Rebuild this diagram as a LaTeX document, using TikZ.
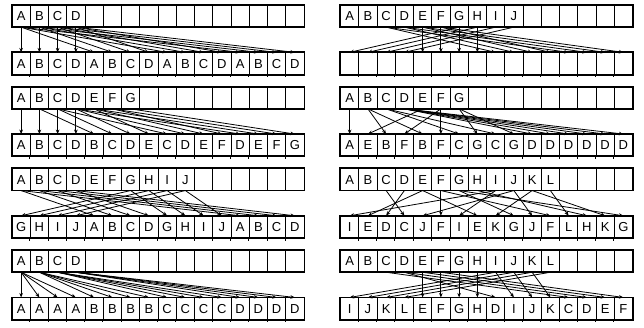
\documentclass[tikz,border=0pt]{standalone}
\usepackage{fontspec}
\setmainfont{Liberation Sans}
\usetikzlibrary{arrows.meta}

% one row of 16 cells: name, left x, centre y, labels
\newcommand{\cellrow}[4]{%
  \foreach \lab [count=\k from 0] in {#4} {
    \node[cell] (#1\k) at (#2+9.125+\k*18.25, #3) {\lab};
  }
  \draw[frame] (#10.north west) rectangle (#115.south east);
}
% small ticks under a bottom row
\newcommand{\ticks}[1]{%
  \foreach \k in {1,...,15} {\draw[cellline] (#1\k.south west) -- ++(0,2.5);}
}

\begin{document}
\begin{tikzpicture}[
  x=1pt, y=-1pt,
  cell/.style={draw, line width=0.8pt, minimum width=18.25pt, minimum height=21.5pt,
    inner sep=0pt, text height=9.3pt, text depth=0pt, font=\fontsize{13}{13}\selectfont},
  frame/.style={line width=1.8pt},
  cellline/.style={line width=0.8pt},
  arr/.style={line width=0.8pt, -{Stealth[length=4.5pt, width=3.6pt]}}
]
\useasboundingbox (0,0) rectangle (644,327);

% row 1, left: repeat ABCD
\cellrow{at}{12}{16}{A,B,C,D,{},{},{},{},{},{},{},{},{},{},{},{}}
\cellrow{ab}{12}{63.5}{A,B,C,D,A,B,C,D,A,B,C,D,A,B,C,D}
\ticks{ab}
\foreach \s [count=\d from 0] in {0,1,2,3,0,1,2,3,0,1,2,3,0,1,2,3}
  \draw[arr] (at\s.south) -- (ab\d.north);

% row 1, right: empty result
\cellrow{bt}{340.5}{16}{A,B,C,D,E,F,G,H,I,J,{},{},{},{},{},{}}
\cellrow{bb}{340.5}{63.5}{{},{},{},{},{},{},{},{},{},{},{},{},{},{},{},{}}
\ticks{bb}
\foreach \s [count=\d from 0] in {6,7,8,9,4,5,6,7,2,3,4,5,2,3,4,5}
  \draw[arr] (bt\s.south) -- (bb\d.north);

% row 2, left: sliding windows
\cellrow{ct}{12}{97.7}{A,B,C,D,E,F,G,{},{},{},{},{},{},{},{},{}}
\cellrow{cb}{12}{145.2}{A,B,C,D,B,C,D,E,C,D,E,F,D,E,F,G}
\ticks{cb}
\foreach \s [count=\d from 0] in {0,1,2,3,1,2,3,4,2,3,4,5,3,4,5,6}
  \draw[arr] (ct\s.south) -- (cb\d.north);

% row 2, right
\cellrow{dt}{340.5}{97.7}{A,B,C,D,E,F,G,{},{},{},{},{},{},{},{},{}}
\cellrow{db}{340.5}{145.2}{A,E,B,F,B,F,C,G,C,G,D,D,D,D,D,D}
\ticks{db}
\foreach \s [count=\d from 0] in {0,4,1,5,1,5,2,6,2,6,3,3,3,3,3,3}
  \draw[arr] (dt\s.south) -- (db\d.north);

% row 3, left
\cellrow{et}{12}{179.4}{A,B,C,D,E,F,G,H,I,J,{},{},{},{},{},{}}
\cellrow{eb}{12}{226.9}{G,H,I,J,A,B,C,D,G,H,I,J,A,B,C,D}
\ticks{eb}
\foreach \s [count=\d from 0] in {6,7,8,9,0,1,2,3,6,7,8,9,0,1,2,3}
  \draw[arr] (et\s.south) -- (eb\d.north);

% row 3, right
\cellrow{ft}{340.5}{179.4}{A,B,C,D,E,F,G,H,I,J,K,L,{},{},{},{}}
\cellrow{fb}{340.5}{226.9}{I,E,D,C,J,F,I,E,K,G,J,F,L,H,K,G}
\ticks{fb}
\foreach \s [count=\d from 0] in {8,4,3,2,9,5,8,4,10,6,9,5,11,7,10,6}
  \draw[arr] (ft\s.south) -- (fb\d.north);

% row 4, left: each repeated
\cellrow{gt}{12}{261.1}{A,B,C,D,{},{},{},{},{},{},{},{},{},{},{},{}}
\cellrow{gb}{12}{308.6}{A,A,A,A,B,B,B,B,C,C,C,C,D,D,D,D}
\ticks{gb}
\foreach \s [count=\d from 0] in {0,0,0,0,1,1,1,1,2,2,2,2,3,3,3,3}
  \draw[arr] (gt\s.south) -- (gb\d.north);

% row 4, right
\cellrow{ht}{340.5}{261.1}{A,B,C,D,E,F,G,H,I,J,K,L,{},{},{},{}}
\cellrow{hb}{340.5}{308.6}{I,J,K,L,E,F,G,H,D,I,J,K,C,D,E,F}
\ticks{hb}
\foreach \s [count=\d from 0] in {8,9,10,11,4,5,6,7,3,8,9,10,2,3,4,5}
  \draw[arr] (ht\s.south) -- (hb\d.north);
\end{tikzpicture}
\end{document}
